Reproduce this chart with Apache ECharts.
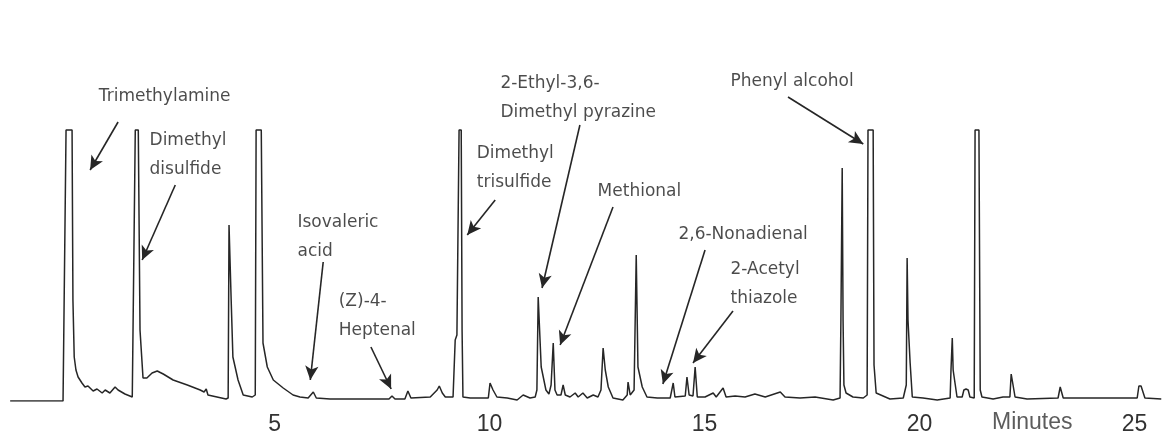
<!DOCTYPE html>
<html>
<head>
<meta charset="utf-8">
<script src="https://cdn.jsdelivr.net/npm/echarts@6/dist/echarts.min.js"></script>
<style>html,body{margin:0;padding:0;background:#fff;}#c{width:1167px;height:440px;}</style>
</head>
<body>
<div id="c"></div>
<script>
// Retention time (minutes) and detector signal (arbitrary units, full-scale peaks clipped at 271)
const times = [-1.15,0.08,0.10,0.15,0.29,0.31,0.34,0.38,0.43,0.52,0.59,0.66,0.78,0.87,0.99,1.06,1.17,1.29,1.36,1.52,1.69,1.73,1.76,1.83,1.87,1.94,2.03,2.15,2.27,2.41,2.64,2.97,3.27,3.36,3.41,3.45,3.66,3.87,3.92,3.94,3.97,3.99,4.03,4.15,4.27,4.48,4.55,4.57,4.69,4.73,4.83,4.97,5.20,5.43,5.59,5.78,5.90,5.97,6.29,7.45,7.66,7.73,7.80,8.03,8.10,8.17,8.62,8.78,8.83,8.90,8.97,9.15,9.20,9.24,9.29,9.34,9.36,9.38,9.55,9.97,10.01,10.08,10.17,10.41,10.64,10.78,10.94,11.06,11.10,11.13,11.15,11.20,11.24,11.31,11.38,11.43,11.48,11.52,11.57,11.66,11.71,11.76,11.87,11.99,12.06,12.17,12.27,12.41,12.52,12.59,12.64,12.69,12.76,12.87,13.10,13.20,13.22,13.27,13.31,13.36,13.41,13.45,13.55,13.66,13.90,14.20,14.27,14.31,14.55,14.59,14.64,14.73,14.78,14.83,15.01,15.20,15.27,15.43,15.50,15.71,15.94,16.17,16.41,16.76,16.87,17.22,17.57,17.99,18.15,18.17,18.20,18.22,18.24,18.29,18.45,18.69,18.78,18.80,18.92,18.94,18.99,19.31,19.62,19.69,19.71,19.73,19.78,19.83,20.08,20.41,20.71,20.73,20.76,20.78,20.83,20.87,20.99,21.03,21.08,21.13,21.17,21.27,21.29,21.38,21.41,21.45,21.71,21.94,22.10,22.13,22.15,22.22,22.50,23.22,23.27,23.34,23.62,23.66,23.73,25.06,25.10,25.15,25.24,25.62];
const signal = [0,0,1,271,271,101,44,31,24,18,14,15,10,12,8,11,8,14,11,7,4,3,271,271,71,23,23,28,30,27,21,16,11,9,12,6,4,2,3,176,176,101,44,21,6,4,6,271,271,58,34,21,13,6,4,3,9,3,2,2,2,5,2,2,10,3,4,11,15,8,4,4,61,66,271,271,71,4,3,3,18,11,4,3,1,6,3,4,11,104,104,34,34,11,7,16,58,11,6,6,16,6,4,8,4,8,3,6,4,11,53,31,14,3,1,6,19,6,4,11,146,34,14,4,3,3,18,4,5,24,6,5,34,4,4,8,4,13,4,5,4,7,4,9,4,3,4,1,3,81,233,81,16,8,4,3,6,271,271,36,8,2,3,16,143,81,38,4,3,1,3,31,63,31,16,4,4,11,12,11,4,3,271,271,11,4,2,4,4,27,27,4,2,3,14,3,3,5,3,3,15,15,3,2];

const tickValues = [5, 10, 15, 20, 25];
const axisTitle = 'Minutes';

// Compound annotations: text anchor (left edge, middle) and arrow from/to, in minutes / signal units
const labelNames = ['Trimethylamine','Dimethyl\ndisulfide','Isovaleric\nacid','(Z)-4-\nHeptenal','Dimethyl\ntrisulfide','2-Ethyl-3,6-\nDimethyl pyrazine','Methional','2,6-Nonadienal','2-Acetyl\nthiazole','Phenyl alcohol'];
const labelTime  = [0.90, 2.08, 5.52, 6.48, 9.69, 10.24, 12.50, 14.38, 15.59, 15.59];
const labelLevel = [304, 246, 164, 85, 233, 303, 209, 166, 117, 319];
const arrowFromTime  = [1.36, 2.69, 6.13, 7.24, 10.13, 12.10, 12.87, 15.01, 15.66, 16.94];
const arrowFromLevel = [279, 216, 139, 54, 201, 276, 194, 151, 90, 304];
const arrowToTime    = [0.71, 1.92, 5.83, 7.71, 9.48, 11.22, 11.64, 14.03, 14.73, 18.69];
const arrowToLevel   = [231, 141, 21, 12, 166, 113, 56, 17, 38, 257];

const trace = times.map((t, i) => [t, signal[i]]);
const labelData = labelNames.map((n, i) => ({ name: n, value: [labelTime[i], labelLevel[i]] }));
const arrows = labelNames.map((n, i) => [
  { coord: [arrowFromTime[i], arrowFromLevel[i]] },
  { coord: [arrowToTime[i], arrowToLevel[i]] }
]);

const chart = echarts.init(document.getElementById('c'), null, { renderer: 'canvas' });
chart.setOption({
  animation: false,
  backgroundColor: '#ffffff',
  grid: { left: 8, right: 2.3, top: 0, bottom: 39, containLabel: false },
  xAxis: {
    type: 'value', min: -1.2, max: 25.7,
    axisLine: { show: false }, axisTick: { show: false }, splitLine: { show: false },
    axisLabel: {
      customValues: tickValues, margin: 12,
      fontFamily: 'Liberation Sans', fontSize: 23, color: '#333333'
    }
  },
  yAxis: { type: 'value', min: 0, max: 401, show: false },
  series: [
    {
      type: 'line', data: trace, symbol: 'none', silent: true,
      lineStyle: { color: '#262626', width: 1.5 }, z: 3
    },
    {
      type: 'scatter', data: labelData, symbolSize: 1, silent: true, clip: false,
      itemStyle: { color: 'rgba(0,0,0,0)' },
      label: {
        show: true, position: 'right', distance: 0, formatter: '{b}',
        fontFamily: 'DejaVu Sans', fontSize: 17, lineHeight: 29, color: '#1e1e1e'
      },
      markLine: {
        silent: true, symbol: ['none', 'arrow'], symbolSize: [10, 14], precision: 4,
        label: { show: false },
        lineStyle: { color: '#262626', width: 1.6, type: 'solid' },
        data: arrows
      }
    },
    {
      type: 'scatter', data: [{ name: axisTitle, value: [22.62, -22] }], symbolSize: 1, silent: true, clip: false,
      itemStyle: { color: 'rgba(0,0,0,0)' },
      label: {
        show: true, position: 'inside', formatter: '{b}',
        fontFamily: 'Liberation Sans', fontSize: 23, color: '#333333'
      }
    }
  ]
});
</script>
</body>
</html>
